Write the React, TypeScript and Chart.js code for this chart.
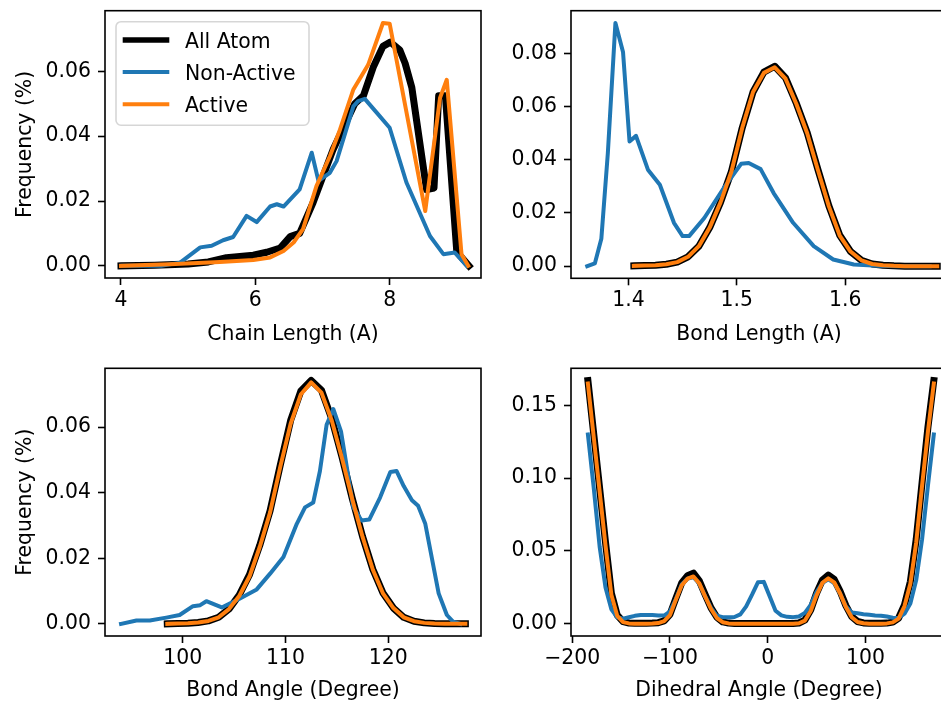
import React, { useEffect, useRef } from "react";
import { Chart, registerables } from "chart.js";

Chart.register(...registerables);

const FAMILY = "DejaVu Sans";
const SIZE = 20.4;
const SERIES_LABELS = ["All Atom", "Non-Active", "Active"];
const SERIES_COLORS = ["#000000", "#1f77b4", "#ff7f0e"];
const SERIES_WIDTHS = [7, 4, 4];

// ---- Chain length (A) ----
const chainAllX = [4.0, 4.5, 5.0, 5.3, 5.57, 5.97, 6.17, 6.37, 6.52, 6.66, 6.86, 7.16, 7.48, 7.61, 7.76, 7.9, 8.01, 8.15, 8.23, 8.33, 8.55, 8.66, 8.73, 8.83, 9.0, 9.18];
const chainAllY = [0, 0.0002, 0.0006, 0.0012, 0.0025, 0.0033, 0.0042, 0.0055, 0.009, 0.01, 0.0195, 0.036, 0.05, 0.0525, 0.0615, 0.0677, 0.069, 0.0666, 0.0625, 0.055, 0.0235, 0.024, 0.0525, 0.0525, 0.0043, 0];
const chainNonX = [4.0, 4.6, 4.88, 5.18, 5.35, 5.52, 5.67, 5.87, 6.02, 6.22, 6.32, 6.42, 6.66, 6.84, 6.94, 7.11, 7.21, 7.46, 7.53, 7.63, 7.81, 8.0, 8.25, 8.6, 8.8, 8.97, 9.15];
const chainNonY = [0, 0, 0.001, 0.0057, 0.0062, 0.0079, 0.0089, 0.0154, 0.0135, 0.0183, 0.019, 0.0183, 0.0236, 0.0349, 0.0262, 0.0287, 0.0323, 0.0492, 0.0508, 0.0515, 0.0472, 0.0426, 0.0257, 0.0092, 0.0036, 0.0041, 0];
const chainActX = [4.0, 4.73, 5.47, 5.97, 6.22, 6.42, 6.57, 6.71, 6.91, 7.11, 7.26, 7.46, 7.68, 7.9, 8.0, 8.53, 8.75, 8.85, 9.07, 9.17];
const chainActY = [0, 0.0005, 0.0012, 0.0018, 0.0026, 0.0046, 0.0072, 0.0113, 0.0246, 0.0338, 0.042, 0.0544, 0.062, 0.0749, 0.0747, 0.0169, 0.0518, 0.0574, 0.0036, 0];

// ---- Bond length (A) ----
const bondX = [1.405, 1.415, 1.425, 1.435, 1.445, 1.455, 1.465, 1.475, 1.485, 1.495, 1.505, 1.515, 1.525, 1.535, 1.545, 1.555, 1.565, 1.575, 1.585, 1.595, 1.605, 1.615, 1.625, 1.635, 1.645, 1.655, 1.665, 1.675, 1.685];
const bondAllY = [0.0001, 0.0002, 0.0003, 0.0007, 0.0015, 0.0035, 0.0075, 0.0145, 0.024, 0.0355, 0.052, 0.0655, 0.073, 0.0752, 0.0708, 0.0612, 0.0502, 0.0362, 0.0226, 0.0116, 0.0055, 0.0022, 0.0008, 0.0003, 0.0001, 0, 0, 0, 0];
const bondActY = [0.0001, 0.0002, 0.0003, 0.0007, 0.0015, 0.0035, 0.0075, 0.0145, 0.024, 0.0355, 0.052, 0.0655, 0.0727, 0.0748, 0.0705, 0.061, 0.05, 0.036, 0.0225, 0.0115, 0.0055, 0.0022, 0.0008, 0.0003, 0.0001, 0, 0, 0, 0];
const bondNonX = [1.362, 1.369, 1.375, 1.381, 1.388, 1.395, 1.401, 1.407, 1.418, 1.429, 1.442, 1.45, 1.456, 1.47, 1.489, 1.504, 1.511, 1.522, 1.534, 1.552, 1.571, 1.589, 1.608, 1.63, 1.65, 1.678];
const bondNonY = [0, 0.001, 0.0103, 0.0425, 0.0915, 0.0806, 0.0469, 0.049, 0.0363, 0.0306, 0.0163, 0.0113, 0.0113, 0.0181, 0.03, 0.0385, 0.0388, 0.0365, 0.0275, 0.0163, 0.0075, 0.0025, 0.0006, 0.0001, 0, 0];

// ---- Bond angle (degree) ----
const angleX = [98.5, 99.5, 100.5, 101.5, 102.5, 103.5, 104.5, 105.5, 106.5, 107.5, 108.5, 109.5, 110.5, 111.5, 112.5, 113.5, 114.5, 115.5, 116.5, 117.5, 118.5, 119.5, 120.5, 121.5, 122.5, 123.5, 124.5, 125.5, 126.5, 127.5];
const angleAllY = [0, 0.0001, 0.0002, 0.0004, 0.0009, 0.002, 0.0045, 0.0088, 0.015, 0.024, 0.0345, 0.0485, 0.062, 0.071, 0.0742, 0.0712, 0.0625, 0.0508, 0.0382, 0.0266, 0.0166, 0.0093, 0.0048, 0.002, 0.0008, 0.0003, 0.0001, 0, 0, 0];
const angleActY = [0, 0.0001, 0.0002, 0.0004, 0.0009, 0.002, 0.0045, 0.0085, 0.0145, 0.0235, 0.034, 0.048, 0.061, 0.07, 0.0736, 0.0705, 0.062, 0.0505, 0.038, 0.0265, 0.0165, 0.0092, 0.0048, 0.002, 0.0008, 0.0003, 0.0001, 0, 0, 0];
const angleNonX = [94.0, 95.5, 96.8, 98.4, 99.7, 101.0, 101.7, 102.3, 103.8, 105.3, 107.2, 108.5, 109.8, 111.1, 111.9, 112.7, 113.35, 114.0, 114.65, 115.4, 116.6, 117.4, 118.15, 119.2, 120.2, 120.8, 121.5, 122.3, 122.9, 123.6, 124.9, 125.7, 126.3, 127.0];
const angleNonY = [0, 0.001, 0.001, 0.0019, 0.0027, 0.0054, 0.0057, 0.0069, 0.005, 0.0073, 0.0105, 0.0153, 0.0204, 0.0305, 0.0355, 0.037, 0.0466, 0.0607, 0.0655, 0.0587, 0.0355, 0.0315, 0.0318, 0.0385, 0.0463, 0.0466, 0.042, 0.0377, 0.036, 0.0305, 0.0093, 0.0027, 0.0007, 0];

// ---- Dihedral angle (degree) ----
const dihedralX = [-184, -178, -172, -166, -160, -154, -148, -142, -136, -130, -124, -118, -112, -106, -100, -94, -88, -82, -76, -70, -64, -58, -52, -46, -40, -34, -28, -22, -16, -10, -4, 2, 8, 14, 20, 26, 32, 38, 44, 50, 56, 62, 68, 74, 80, 86, 92, 98, 104, 110, 116, 122, 128, 134, 140, 146, 152, 158, 164, 170];
const dihedralAllY = [0.167, 0.13, 0.093, 0.056, 0.021, 0.006, 0.0015, 0.0006, 0.0004, 0.0004, 0.0004, 0.0005, 0.0008, 0.002, 0.0065, 0.0175, 0.028, 0.033, 0.0348, 0.0295, 0.02, 0.011, 0.0045, 0.0013, 0.0005, 0.0003, 0.0003, 0.0003, 0.0003, 0.0003, 0.0003, 0.0003, 0.0003, 0.0003, 0.0003, 0.0003, 0.0006, 0.0025, 0.0095, 0.021, 0.03, 0.0335, 0.0305, 0.0225, 0.0125, 0.005, 0.0016, 0.0006, 0.0004, 0.0004, 0.0004, 0.0005, 0.0012, 0.004, 0.013, 0.029, 0.058, 0.097, 0.135, 0.167];
const dihedralNonY = [0.13, 0.093, 0.053, 0.025, 0.01, 0.0045, 0.0035, 0.0045, 0.0055, 0.006, 0.006, 0.006, 0.0058, 0.0057, 0.0085, 0.017, 0.027, 0.031, 0.032, 0.0275, 0.019, 0.011, 0.0055, 0.0046, 0.0045, 0.0047, 0.0065, 0.012, 0.02, 0.0285, 0.0288, 0.019, 0.009, 0.0058, 0.0048, 0.0046, 0.005, 0.0075, 0.013, 0.022, 0.028, 0.0305, 0.028, 0.021, 0.012, 0.0078, 0.0072, 0.0066, 0.0062, 0.0058, 0.0055, 0.005, 0.0042, 0.004, 0.007, 0.014, 0.03, 0.058, 0.095, 0.13];
const dihedralActY = [0.165, 0.128, 0.091, 0.054, 0.02, 0.0055, 0.0012, 0.0003, 0.0001, 0.0001, 0.0001, 0.0002, 0.0005, 0.0018, 0.006, 0.0165, 0.0265, 0.031, 0.0325, 0.0278, 0.0188, 0.0102, 0.004, 0.0011, 0.0003, 0.0001, 0.0001, 0.0001, 0.0001, 0.0001, 0.0001, 0.0001, 0.0001, 0.0001, 0.0001, 0.0001, 0.0004, 0.0022, 0.0088, 0.0196, 0.0282, 0.0312, 0.0285, 0.021, 0.0115, 0.0045, 0.0013, 0.0004, 0.0001, 0.0001, 0.0001, 0.0003, 0.001, 0.0036, 0.0122, 0.0275, 0.056, 0.095, 0.132, 0.165];

// ---- Tick values ----
const chainTicks = [4, 6, 8];
const bondTicks = [1.4, 1.5, 1.6];
const angleTicks = [100, 110, 120];
const dihedralTicks = [-200, -100, 0, 100];
const freqTicksA = [0, 0.02, 0.04, 0.06];
const freqTicksB = [0, 0.02, 0.04, 0.06, 0.08];
const freqTicksD = [0, 0.05, 0.1, 0.15];

type Line = { x: number[]; y: number[] };

type PanelProps = {
  left: number;
  top: number;
  width: number;
  height: number;
  pad: { left: number; top: number; right: number; bottom: number };
  yAxisWidth: number;
  xAxisHeight: number;
  xRange: [number, number];
  yRange: [number, number];
  xTicks: number[];
  yTicks: number[];
  xFmt: (v: number) => string;
  yFmt: (v: number) => string;
  xTitle: string;
  yTitle?: string;
  xTitlePad: number;
  lines: Line[];
  legend?: boolean;
};

const minus = (s: string) => s.replace("-", "\u2212");

// Full axes frame (all four spines), drawn above the lines.
const spinesPlugin = {
  id: "spines",
  afterDatasetsDraw(chart: any) {
    const { ctx, chartArea: a } = chart;
    ctx.save();
    ctx.strokeStyle = "#000";
    ctx.lineWidth = 1.6;
    ctx.strokeRect(a.left, a.top, a.right - a.left, a.bottom - a.top);
    ctx.restore();
  },
};

// Boxed legend in the upper-left corner of the axes.
const legendPlugin = {
  id: "boxLegend",
  afterDraw(chart: any) {
    const ctx: CanvasRenderingContext2D = chart.ctx;
    const a = chart.chartArea;
    const bx = a.left + 11;
    const by = a.top + 11;
    const bw = 193;
    const bh = 103.5;
    const r = 5;
    ctx.save();
    ctx.beginPath();
    ctx.moveTo(bx + r, by);
    ctx.arcTo(bx + bw, by, bx + bw, by + bh, r);
    ctx.arcTo(bx + bw, by + bh, bx, by + bh, r);
    ctx.arcTo(bx, by + bh, bx, by, r);
    ctx.arcTo(bx, by, bx + bw, by, r);
    ctx.closePath();
    ctx.fillStyle = "rgba(255,255,255,0.8)";
    ctx.fill();
    ctx.strokeStyle = "rgba(204,204,204,0.8)";
    ctx.lineWidth = 1.6;
    ctx.stroke();
    ctx.font = `${SIZE}px "${FAMILY}"`;
    ctx.textAlign = "left";
    ctx.textBaseline = "alphabetic";
    ctx.fillStyle = "#000";
    SERIES_LABELS.forEach((label, i) => {
      const cy = by + 18.3 + i * 32.1;
      ctx.beginPath();
      ctx.moveTo(bx + 6.7, cy);
      ctx.lineTo(bx + 53.3, cy);
      ctx.strokeStyle = SERIES_COLORS[i];
      ctx.lineWidth = i === 0 ? 5.5 : 4;
      ctx.lineCap = "butt";
      ctx.stroke();
      ctx.fillText(label, bx + 69, cy + 7.7);
    });
    ctx.restore();
  },
};

function LinePanel(p: PanelProps) {
  const ref = useRef<HTMLCanvasElement | null>(null);

  useEffect(() => {
    const canvas = ref.current;
    if (!canvas) return;
    const font = { family: FAMILY, size: SIZE };
    const datasets = p.lines.map((s, i) => ({
      label: SERIES_LABELS[i],
      data: s.x.map((x, j) => ({ x, y: s.y[j] })),
      borderColor: SERIES_COLORS[i],
      backgroundColor: SERIES_COLORS[i],
      borderWidth: SERIES_WIDTHS[i],
      pointRadius: 0,
      pointHoverRadius: 0,
      tension: 0,
      fill: false,
      borderJoinStyle: "round" as const,
      borderCapStyle: "square" as const,
      order: 3 - i,
    }));

    const tickGrid = {
      display: true,
      drawOnChartArea: false,
      drawTicks: true,
      tickLength: 7,
      tickWidth: 1.6,
      tickColor: "#000",
    };

    const chart = new Chart(canvas, {
      type: "line",
      data: { datasets },
      options: {
        animation: false,
        responsive: false,
        devicePixelRatio: 1,
        events: [],
        layout: { padding: p.pad },
        plugins: { legend: { display: false }, tooltip: { enabled: false } },
        scales: {
          x: {
            type: "linear",
            min: p.xRange[0],
            max: p.xRange[1],
            afterBuildTicks: (s: any) => {
              s.ticks = p.xTicks.map((v) => ({ value: v }));
            },
            afterFit: (s: any) => {
              s.height = p.xAxisHeight;
              s.paddingLeft = 0;
              s.paddingRight = 0;
            },
            grid: tickGrid,
            border: { display: false },
            ticks: {
              color: "#000",
              font,
              padding: 3.5,
              maxRotation: 0,
              autoSkip: false,
              callback: (v: any) => p.xFmt(Number(v)),
            },
            title: {
              display: true,
              text: p.xTitle,
              color: "#000",
              font,
              padding: { top: 0, bottom: p.xTitlePad },
            },
          },
          y: {
            type: "linear",
            min: p.yRange[0],
            max: p.yRange[1],
            afterBuildTicks: (s: any) => {
              s.ticks = p.yTicks.map((v) => ({ value: v }));
            },
            afterFit: (s: any) => {
              s.width = p.yAxisWidth;
              s.paddingTop = 0;
              s.paddingBottom = 0;
            },
            grid: tickGrid,
            border: { display: false },
            ticks: {
              color: "#000",
              font,
              padding: 7,
              autoSkip: false,
              callback: (v: any) => p.yFmt(Number(v)),
            },
            title: {
              display: !!p.yTitle,
              text: p.yTitle || "",
              color: "#000",
              font,
              padding: { top: 13, bottom: 0 },
            },
          },
        },
      } as any,
      plugins: p.legend ? [spinesPlugin, legendPlugin] : [spinesPlugin],
    });
    return () => chart.destroy();
  }, []);

  return (
    <canvas
      ref={ref}
      width={p.width}
      height={p.height}
      style={{
        position: "absolute",
        left: p.left,
        top: p.top,
        width: p.width,
        height: p.height,
        display: "block",
      }}
    />
  );
}

const fmt2 = (v: number) => minus(v.toFixed(2));
const fmt1 = (v: number) => minus(v.toFixed(1));
const fmt0 = (v: number) => minus(v.toFixed(0));

export default function App() {
  return (
    <div
      style={{
        position: "fixed",
        left: 0,
        top: 0,
        width: 941,
        height: 705,
        overflow: "hidden",
        background: "#ffffff",
      }}
    >
      <LinePanel
        left={0}
        top={0}
        width={490}
        height={352}
        pad={{ left: 0, top: 10.7, right: 9, bottom: 0 }}
        yAxisWidth={105}
        xAxisHeight={74}
        xRange={[3.762, 9.36]}
        yRange={[-0.00375, 0.0787]}
        xTicks={chainTicks}
        yTicks={freqTicksA}
        xFmt={fmt0}
        yFmt={fmt2}
        xTitle="Chain Length (A)"
        yTitle="Frequency (%)"
        xTitlePad={5.4}
        lines={[
          { x: chainAllX, y: chainAllY },
          { x: chainNonX, y: chainNonY },
          { x: chainActX, y: chainActY },
        ]}
        legend
      />
      <LinePanel
        left={490}
        top={0}
        width={460}
        height={352}
        pad={{ left: 0, top: 10.7, right: 3, bottom: 0 }}
        yAxisWidth={81}
        xAxisHeight={73.7}
        xRange={[1.347, 1.694]}
        yRange={[-0.00458, 0.0961]}
        xTicks={bondTicks}
        yTicks={freqTicksB}
        xFmt={fmt1}
        yFmt={fmt2}
        xTitle="Bond Length (A)"
        xTitlePad={5.4}
        lines={[
          { x: bondX, y: bondAllY },
          { x: bondNonX, y: bondNonY },
          { x: bondX, y: bondActY },
        ]}
      />
      <LinePanel
        left={0}
        top={352}
        width={490}
        height={353}
        pad={{ left: 0, top: 16.3, right: 9, bottom: 0 }}
        yAxisWidth={105}
        xAxisHeight={69}
        xRange={[92.44, 129.02]}
        yRange={[-0.0037, 0.0779]}
        xTicks={angleTicks}
        yTicks={freqTicksA}
        xFmt={fmt0}
        yFmt={fmt2}
        xTitle="Bond Angle (Degree)"
        yTitle="Frequency (%)"
        xTitlePad={1.7}
        lines={[
          { x: angleX, y: angleAllY },
          { x: angleNonX, y: angleNonY },
          { x: angleX, y: angleActY },
        ]}
      />
      <LinePanel
        left={490}
        top={352}
        width={460}
        height={353}
        pad={{ left: 0, top: 16.3, right: 3, bottom: 0 }}
        yAxisWidth={81}
        xAxisHeight={69}
        xRange={[-201.3, 183.5]}
        yRange={[-0.00835, 0.1754]}
        xTicks={dihedralTicks}
        yTicks={freqTicksD}
        xFmt={fmt0}
        yFmt={fmt2}
        xTitle="Dihedral Angle (Degree)"
        xTitlePad={1.7}
        lines={[
          { x: dihedralX, y: dihedralAllY },
          { x: dihedralX, y: dihedralNonY },
          { x: dihedralX, y: dihedralActY },
        ]}
      />
    </div>
  );
}
